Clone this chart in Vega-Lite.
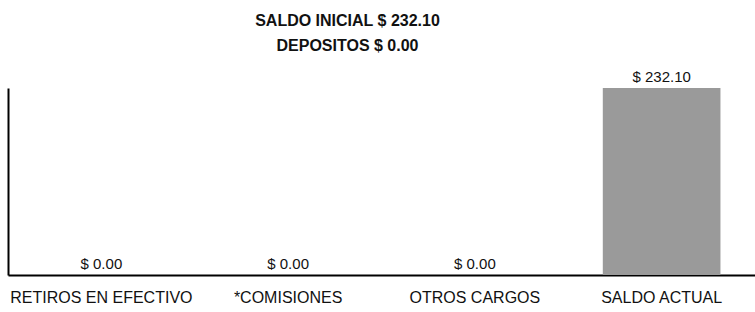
{
  "$schema": "https://vega.github.io/schema/vega-lite/v6.json",
  "autosize": {"type": "none"},
  "width": 747,
  "height": 187,
  "padding": {"left": 8, "top": 88, "right": 0, "bottom": 37},
  "background": "white",
  "title": {
    "text": ["SALDO INICIAL $ 232.10", "DEPOSITOS $ 0.00"],
    "anchor": "middle",
    "frame": "group",
    "dx": -34,
    "offset": 16,
    "font": "Liberation Sans",
    "fontSize": 16,
    "fontWeight": "bold",
    "lineHeight": 25,
    "color": "#111111"
  },
  "data": {
    "values": [
      {"concepto": "RETIROS EN EFECTIVO", "monto": 0, "etiqueta": "$ 0.00"},
      {"concepto": "*COMISIONES", "monto": 0, "etiqueta": "$ 0.00"},
      {"concepto": "OTROS CARGOS", "monto": 0, "etiqueta": "$ 0.00"},
      {"concepto": "SALDO ACTUAL", "monto": 232.1, "etiqueta": "$ 232.10"}
    ]
  },
  "encoding": {
    "x": {
      "field": "concepto",
      "type": "nominal",
      "sort": null,
      "scale": {"paddingInner": 0.37, "paddingOuter": 0.185},
      "axis": {
        "title": null,
        "labelAngle": 0,
        "ticks": false,
        "labelPadding": 14,
        "labelLimit": 300,
        "labelOverlap": false,
        "labelFont": "Liberation Sans",
        "labelFontSize": 16,
        "labelColor": "#111111",
        "domainColor": "#000000",
        "domainWidth": 2
      }
    },
    "y": {
      "field": "monto",
      "type": "quantitative",
      "scale": {"domain": [0, 232.1], "nice": false},
      "axis": {
        "title": null,
        "labels": false,
        "ticks": false,
        "grid": false,
        "domainColor": "#000000",
        "domainWidth": 2
      }
    }
  },
  "layer": [
    {
      "mark": {"type": "bar", "color": "#9a9a9a"}
    },
    {
      "mark": {
        "type": "text",
        "baseline": "bottom",
        "dy": -3,
        "font": "Liberation Sans",
        "fontSize": 15,
        "color": "#111111"
      },
      "encoding": {"text": {"field": "etiqueta"}}
    }
  ],
  "config": {"view": {"stroke": null}}
}
